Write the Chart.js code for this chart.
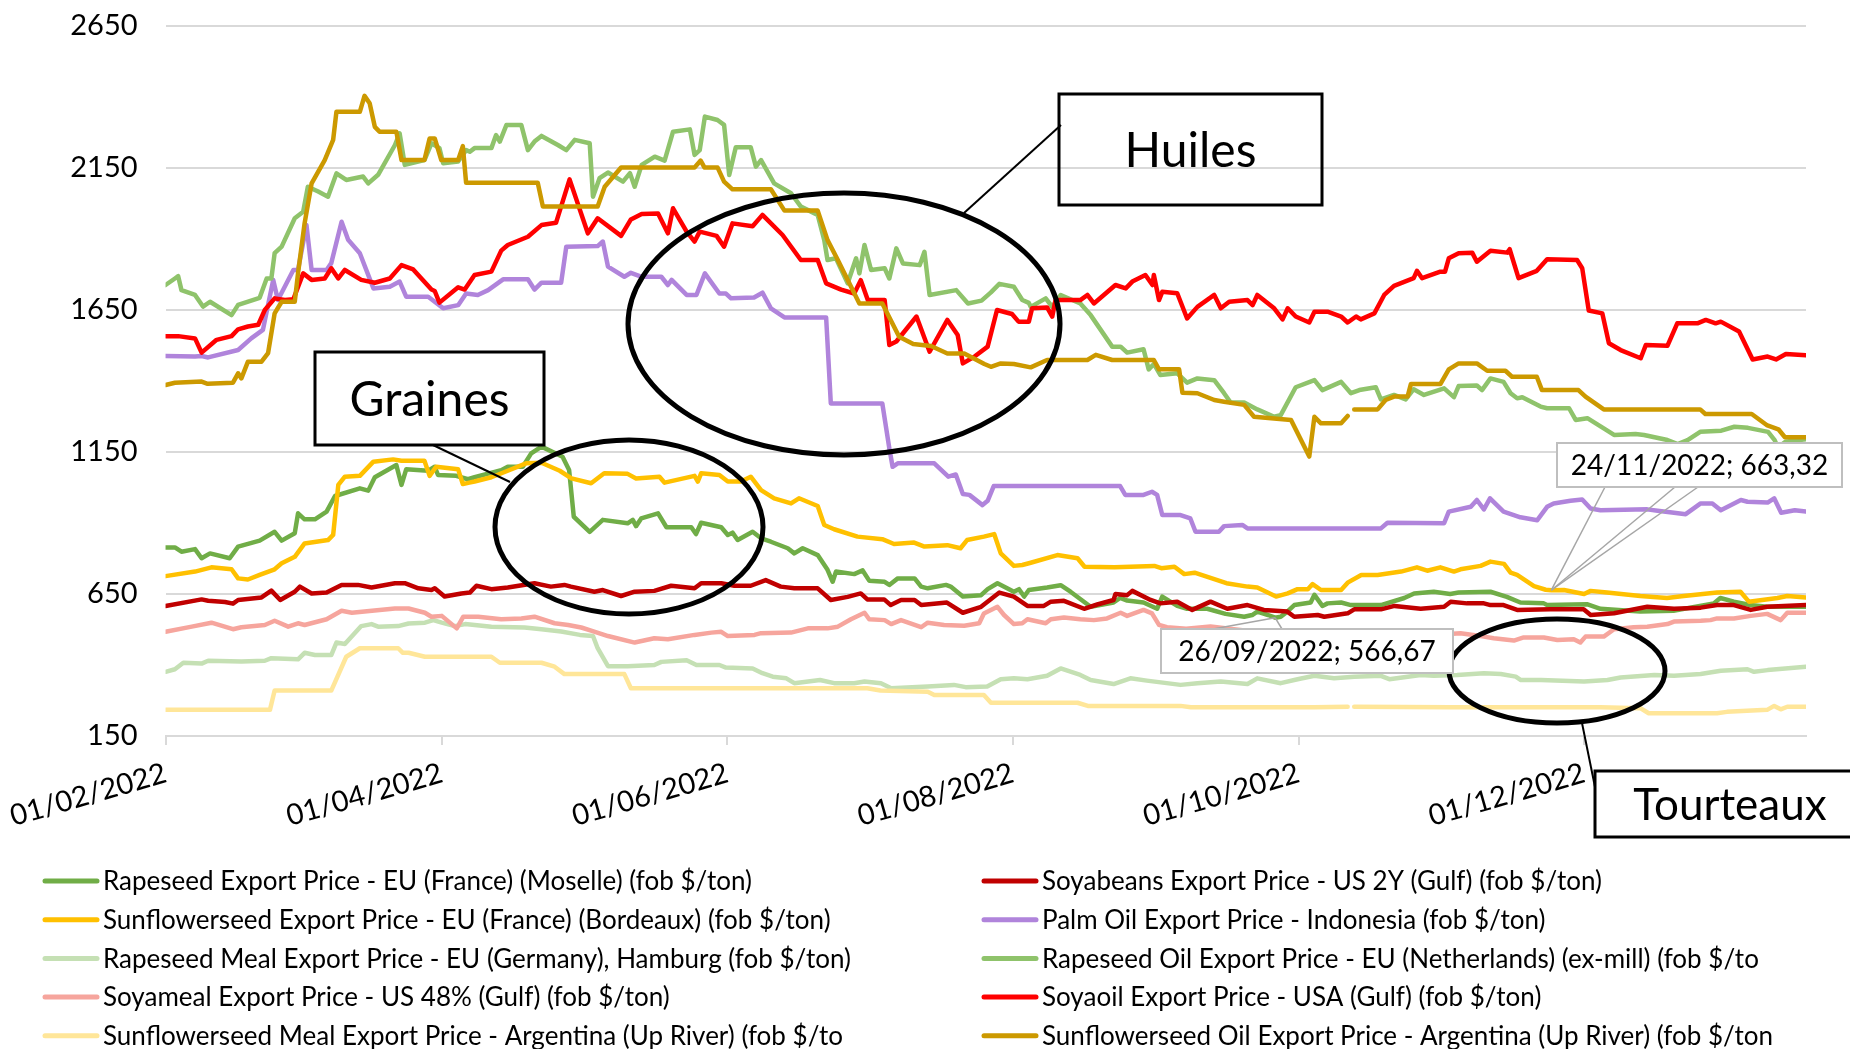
<!DOCTYPE html>
<html>
<head>
<meta charset="utf-8">
<title>Prix export oléagineux 2022</title>
<script src="https://cdn.jsdelivr.net/npm/chart.js@4.4.1/dist/chart.umd.min.js"></script>
<style>
    html, body { margin: 0; padding: 0; background: #fff; }
    #wrap { position: relative; width: 1850px; height: 1049px; }
</style>
</head>
<body>
<div id="wrap"><canvas id="chart"></canvas></div>
<script>
// x values are days counted from 01/02/2022
const tickDays = [0, 59, 120, 181, 242, 303];
const tickLabels = ['01/02/2022', '01/04/2022', '01/06/2022', '01/08/2022', '01/10/2022', '01/12/2022'];
const yTicks = [150, 650, 1150, 1650, 2150, 2650];

const seriesNames = [
    'Rapeseed Export Price - EU (France) (Moselle) (fob $/ton)',
    'Soyabeans Export Price - US 2Y (Gulf) (fob $/ton)',
    'Sunflowerseed Export Price - EU (France) (Bordeaux) (fob $/ton)',
    'Palm Oil Export Price - Indonesia (fob $/ton)',
    'Rapeseed Meal Export Price - EU (Germany), Hamburg (fob $/ton)',
    'Rapeseed Oil Export Price - EU (Netherlands) (ex-mill) (fob $/to',
    'Soyameal Export Price - US 48% (Gulf) (fob $/ton)',
    'Soyaoil Export Price - USA (Gulf) (fob $/ton)',
    'Sunflowerseed Meal Export Price - Argentina (Up River) (fob $/to',
    'Sunflowerseed Oil Export Price - Argentina (Up River) (fob $/ton'
];
const seriesColors = ['#70AD47', '#C00000', '#FFC000', '#B084DB', '#C5E0B4',
                      '#8FC36B', '#F6A59D', '#FF0000', '#FFE699', '#CC9900'];

// [day, price]
const rapeseed = [[0,814],[2,814],[3.4,799],[6.3,808],[7.7,776],[9.5,793],[13.7,776],[15.5,817],[20.1,838],[23.3,869],[24.8,838],[27.6,864],[28.3,934],[29.7,913],[31.9,913],[34.4,940],[36.2,995],[41.5,1022],[43.3,1014],[44.7,1061],[49.3,1104],[50.4,1034],[51.4,1089],[56.1,1084],[57.5,1098],[58.2,1069],[62.1,1066],[64.6,1054],[66,1061],[70.3,1080],[71.7,1086],[73.1,1098],[76.3,1098],[78.1,1145],[80.3,1169],[84.8,1133],[86.2,1087],[87.2,922],[90.6,869],[93.4,911],[98.7,899],[99.8,911],[100.5,889],[101.6,916],[105.2,934],[107,885],[112.3,885],[113.3,861],[114.4,901],[118.7,885],[120.1,858],[121.1,866],[122.2,840],[125.4,869],[127.2,846],[129.3,834],[132.9,811],[134.3,793],[136.1,811],[139.3,787],[141.4,735],[142.5,693],[143.2,729],[147.1,720],[148.9,733],[150.3,697],[153.6,693],[154.6,682],[156.4,705],[160,705],[161.4,676],[162.8,670],[166.7,682],[167.7,676],[170.3,641],[174.2,646],[175.6,667],[177.7,688],[181.2,658],[182.3,667],[183.4,641],[184.4,664],[188.3,673],[191.2,681],[193.3,658],[197.6,605],[202.5,620],[203.9,636],[205.4,627],[208.9,620],[211.8,598],[212.9,641],[216.1,608],[218.2,598],[222.5,598],[226.4,580],[230.4,570],[232.1,576],[233.2,588],[235.5,576],[237,566.67],[238.2,570],[239.6,588],[241.1,611],[244.6,620],[245.4,647],[247.1,608],[248.2,617],[251.1,620],[253.2,611],[259.6,611],[264.6,636],[266.7,652],[270.9,658],[274.4,650],[276.2,655],[283,658],[286.5,640],[289.4,620],[294.4,617],[295.1,611],[303.6,614],[306.5,598],[315,588],[322.1,591],[330.7,617],[332.1,636],[335,623],[338.5,611],[342.1,605],[350.4,605]];
const soyabeans = [[0,608],[7.7,631],[9.1,626],[12.7,622],[14.4,616],[15.5,629],[20.5,638],[22.6,662],[24.5,629],[27.6,658],[28.7,676],[31.2,652],[34.4,655],[37.6,682],[41.1,682],[44,673],[49,688],[51.1,688],[54,670],[56.8,664],[57.5,670],[59.6,641],[63.2,652],[65,655],[66.4,679],[69.6,667],[73.1,673],[78.8,688],[82.3,676],[85.2,682],[86.6,676],[91.6,658],[93.4,664],[97.3,643],[100.2,658],[104.4,661],[108,679],[113,670],[114.4,688],[118.7,688],[121.5,679],[125,679],[128.2,699],[131.4,676],[134.3,670],[139.3,670],[142.1,629],[145.7,640],[148.5,652],[149.9,631],[153.5,631],[154.9,611],[157.1,629],[160,629],[161.4,611],[166.9,620],[170.3,584],[174.2,605],[178.1,655],[181.2,641],[184.1,608],[187.6,608],[189.1,623],[191.9,626],[196.2,598],[199,613],[202.5,629],[202.9,650],[205.4,646],[206.5,661],[210.4,629],[212.5,617],[216.1,623],[219.3,594],[223.2,623],[226.8,598],[231.1,611],[234.6,594],[239.6,588],[241.1,570],[246.1,576],[247.5,570],[252.5,582],[253.9,596],[259.6,596],[262.5,608],[268.1,598],[273.1,605],[274.5,623],[278,617],[281.6,617],[283,611],[285.8,611],[288.7,594],[295.8,596],[302.9,596],[304.4,576],[309.4,582],[316.5,605],[322.2,598],[327.9,602],[331.4,611],[335,611],[338.6,594],[342.1,605],[350.4,611]];
const sunflowerseed = [[0,713],[6.3,729],[9.8,744],[14.1,737],[15.5,705],[17.6,701],[20.1,717],[23.3,737],[24.8,758],[27.6,781],[29.7,828],[34.7,840],[35.8,858],[36.9,1034],[38.3,1063],[41.5,1066],[44.4,1116],[48.6,1124],[50.4,1119],[55.3,1119],[56.4,1066],[57.8,1098],[62.5,1089],[63.5,1037],[64.9,1042],[66,1046],[69.6,1061],[73.1,1084],[77,1110],[80.3,1112],[84.2,1084],[86.7,1057],[90.9,1040],[93.7,1075],[98.7,1073],[100.5,1057],[105.5,1063],[106.6,1042],[113,1066],[113.7,1046],[114.4,1075],[118.3,1069],[120.1,1046],[122.9,1046],[125,1063],[127.2,1016],[130,987],[133.6,969],[135.3,987],[139.3,960],[140.7,893],[142.8,878],[147.8,852],[153.1,843],[155.6,826],[159.9,831],[162.1,817],[167,822],[169.8,811],[171.2,840],[174.8,852],[177,861],[178.4,793],[181.2,749],[183,752],[184.8,760],[190.5,787],[194.8,776],[196.3,746],[202.7,744],[211.2,749],[212.7,741],[215.5,746],[217.6,720],[219.8,725],[226.6,688],[231.1,676],[233.2,673],[237.2,641],[239.7,652],[241.8,667],[244,667],[245,685],[246.8,664],[251.1,664],[252.5,690],[255.4,717],[258.9,717],[263.9,729],[267.3,744],[269.5,732],[272.3,744],[275.2,729],[276.6,737],[280.9,749],[283,764],[285.9,756],[287.3,725],[288.7,717],[292.3,678],[294.8,665],[296,663.32],[298.7,664],[303,650],[304.4,661],[307.9,655],[315,643],[320.7,636],[324.3,643],[331.4,655],[336.4,658],[338.2,623],[344.3,636],[346.4,643],[350.4,638]];
const palmOil = [[0,1488],[6.3,1486],[7.7,1488],[9.1,1483],[15.5,1509],[18.3,1550],[20.8,1580],[23,1756],[24,1685],[27.3,1791],[28.3,1791],[30.1,1949],[31.2,1791],[34.4,1791],[35.4,1815],[37.6,1961],[39,1897],[41.5,1850],[44.4,1726],[47.9,1732],[50,1750],[51.4,1697],[56.1,1697],[59.3,1656],[62.5,1667],[64.2,1708],[66.7,1703],[68.9,1720],[72.1,1758],[77.4,1758],[78.8,1722],[80.3,1746],[84.5,1746],[85.6,1873],[92.3,1875],[93.4,1891],[94.5,1803],[98,1767],[99.4,1781],[101.7,1767],[105.9,1767],[107.3,1738],[108.1,1756],[111.3,1703],[113.4,1703],[115.2,1779],[118.3,1708],[119.7,1708],[120.8,1691],[125.7,1694],[127.5,1711],[129.3,1656],[132.2,1624],[141.1,1624],[142.1,1321],[153.1,1321],[154.6,1163],[155.3,1098],[156.4,1110],[164.2,1110],[167.2,1063],[168.8,1071],[170.3,1002],[171.7,999],[174.5,963],[175.6,978],[176.9,1030],[203.9,1030],[205,999],[208.9,999],[210.7,1010],[211.8,999],[212.9,928],[216.8,928],[218.9,916],[220,869],[225,869],[226.1,889],[230,893],[231.1,881],[259.6,881],[261,901],[273.1,899],[274.1,940],[278.8,957],[280.1,981],[281.6,948],[282.9,987],[285.8,940],[289.4,920],[293,910],[295.1,957],[296.5,969],[300.1,978],[302.6,983],[304.4,951],[306.5,945],[316.5,948],[318.7,943],[322.2,936],[324.7,931],[327.9,969],[330.4,969],[332.2,945],[336.5,981],[337.9,975],[342.2,972],[343.6,987],[345.1,936],[348,945],[350.4,940]];
const rapeseedMeal = [[0,376],[2,385],[3.8,408],[7.7,405],[9.1,415],[16.2,412],[21.2,415],[22.6,424],[28.3,420],[29.7,443],[31.9,435],[35.4,435],[36.5,479],[38.3,474],[41.8,537],[44,544],[45.4,535],[49.7,537],[51.9,546],[55.4,549],[57.2,558],[59,549],[61.8,537],[64,544],[69.6,535],[76.7,532],[80.3,526],[84.5,518],[88.5,506],[91.3,502],[92.3,459],[94.5,396],[98.7,396],[104.4,400],[105.9,411],[111.3,417],[113.4,400],[118.3,400],[119.7,391],[125.4,388],[127.5,371],[129.7,359],[132.6,353],[134.3,336],[139.8,347],[142.8,336],[147.1,336],[149.3,342],[152.8,336],[155,318],[162.8,324],[168.4,330],[170.9,322],[175.5,324],[178.4,350],[181.2,353],[184.1,350],[188.3,362],[191.2,388],[195.4,365],[197.6,347],[202.5,333],[206.1,353],[209.6,345],[216.8,330],[220.4,336],[225.4,342],[231.1,333],[233.2,353],[238.2,336],[241.8,350],[245.4,362],[249.6,353],[253.9,359],[259.6,362],[261.4,350],[268.1,365],[270.9,362],[275.9,365],[281.6,371],[285.2,368],[288.4,359],[289.5,347],[293.8,347],[303,342],[308,347],[310.8,356],[318,365],[322.2,362],[327.9,368],[332.2,380],[337.9,385],[339.3,376],[342.2,382],[350.4,394]];
const rapeseedOil = [[0,1738],[2,1761],[2.7,1769],[3.4,1720],[6.3,1703],[8,1662],[9.5,1679],[14.1,1632],[15.5,1668],[20.1,1693],[21.6,1761],[22.6,1761],[23.3,1850],[24.8,1873],[27.6,1973],[29.4,1996],[30.4,2084],[32.6,2067],[34.7,2049],[36.5,2131],[38.6,2108],[42.2,2120],[43.3,2096],[45.4,2126],[49,2231],[50,2272],[51.1,2161],[55.3,2178],[56.8,2237],[58.5,2220],[59.3,2167],[62.5,2173],[64.2,2213],[65,2207],[66,2220],[69.6,2220],[70.6,2266],[71.4,2243],[72.8,2301],[76,2301],[77.4,2213],[78.8,2243],[80.3,2263],[83.8,2231],[85.6,2213],[87.4,2249],[90.6,2237],[91.3,2049],[92.7,2114],[94.5,2134],[97.7,2102],[99.2,2132],[100.2,2084],[101.7,2161],[104.5,2190],[106.6,2176],[108.4,2278],[112,2286],[113,2196],[114.1,2213],[115.2,2331],[117.9,2319],[119.3,2302],[120.4,2125],[121.8,2223],[125,2223],[126.1,2155],[127.2,2178],[130,2096],[133.6,2061],[135.7,2014],[139.3,1985],[140.7,1896],[141.4,1826],[143.2,1832],[145.7,1744],[147.5,1832],[148.2,1779],[149.3,1879],[150.7,1791],[153.6,1797],[154.6,1761],[156.1,1867],[157.5,1814],[161.1,1808],[162.1,1855],[163.2,1703],[168.9,1720],[171.4,1673],[174.3,1683],[176.3,1712],[178.1,1742],[181.2,1732],[183,1685],[184.4,1675],[184.8,1661],[188,1691],[189.4,1661],[191.2,1703],[195.4,1673],[197.6,1632],[202.2,1521],[204,1521],[205.4,1500],[208.9,1512],[210,1441],[211.1,1460],[212.5,1421],[216.1,1427],[218.2,1394],[220.4,1409],[224,1403],[226.1,1357],[227.5,1324],[230.4,1324],[233.2,1300],[236.8,1274],[238.2,1280],[241.4,1378],[245.4,1403],[247.1,1368],[251.1,1397],[253.2,1357],[255,1368],[258.5,1378],[259.6,1335],[262.4,1351],[264.9,1335],[266.6,1371],[268.8,1351],[273.1,1374],[275.2,1343],[276.2,1382],[280.1,1384],[281.2,1368],[283,1409],[285.8,1397],[287.3,1357],[288.7,1339],[289.8,1343],[293.7,1310],[295.1,1304],[299.8,1304],[301.2,1263],[303.7,1269],[307.2,1233],[309.4,1210],[314,1213],[315.8,1210],[320.8,1192],[323,1178],[325.1,1192],[327.8,1221],[332.3,1225],[335.1,1239],[338,1235],[342.3,1221],[343.7,1192],[344.4,1166],[346,1186],[350.4,1195]];
const soyameal = [[0,517],[5.6,535],[9.8,549],[14.4,526],[16.2,533],[21.2,541],[23.3,556],[26.2,535],[28.3,547],[29.7,541],[34.4,561],[37.6,591],[39.8,584],[44.1,591],[49,599],[51.9,599],[55.4,584],[56.8,570],[59,573],[62.2,529],[63.6,570],[66.8,570],[71.7,561],[76,564],[78.8,570],[83.1,547],[86,541],[88.8,532],[90.9,521],[94.5,502],[100.2,479],[104.4,494],[107.3,491],[113,506],[116.6,514],[118.7,517],[120.1,502],[125.8,506],[127.2,512],[133.6,514],[137.2,529],[141.4,529],[143.6,535],[146.4,561],[149.3,584],[150.3,561],[153.6,558],[155,544],[157.1,558],[161.4,533],[162.8,549],[166.3,541],[170.6,538],[173.8,547],[174.8,581],[177.7,605],[179.1,576],[181.2,544],[183,547],[184.1,561],[188,547],[189.1,561],[191.9,567],[195.4,561],[198.3,558],[201.1,564],[204,584],[205.4,573],[208.9,594],[210.7,582],[212.2,541],[213.9,533],[218,528],[223.2,536],[230,522],[240,515],[250,508],[260,505],[270,505],[276.6,512],[281.6,500],[283.7,494],[288,486],[290.1,497],[294.4,497],[297.3,488],[300.8,491],[302.2,479],[303.3,500],[307.2,500],[309.4,526],[313.6,533],[316.5,535],[320.8,544],[322.2,553],[327.9,556],[330,558],[331.4,564],[335,564],[338.6,573],[342.1,580],[345,558],[346.4,584],[350.4,584]];
const soyaoil = [[0,1558],[2.7,1558],[6.3,1550],[7.7,1500],[10.9,1545],[14.1,1558],[15.5,1582],[17.6,1592],[19.8,1598],[21.2,1650],[23.3,1691],[25.5,1685],[27.3,1688],[29.4,1779],[31.2,1756],[34,1761],[35.4,1797],[36.9,1761],[38.3,1791],[41.8,1756],[44.7,1746],[47.9,1761],[50.4,1808],[52.9,1793],[56.8,1722],[57.5,1717],[58.5,1676],[62.5,1730],[63.9,1722],[66,1773],[69.6,1785],[71.7,1859],[73.1,1879],[77.4,1908],[80.3,1949],[83.4,1957],[86.3,2110],[90.2,1920],[92.3,1973],[97.3,1911],[99.4,1969],[101.7,1988],[105.2,1990],[107.3,1920],[108.4,2008],[111.3,1926],[113,1891],[114.1,1926],[117.7,1911],[119.3,1873],[121.1,1955],[125.4,1945],[127.5,1985],[131.8,1914],[135.7,1826],[139.3,1826],[141.1,1744],[144.3,1722],[147.1,1708],[148.5,1755],[150,1685],[153.6,1685],[154.6,1527],[156.1,1539],[160.4,1627],[163.2,1503],[167,1615],[169.2,1562],[170.3,1462],[172.8,1486],[175.6,1521],[177.6,1650],[180.8,1636],[182.2,1609],[184.4,1609],[185.1,1656],[188.3,1659],[189.4,1627],[190.1,1685],[195.4,1685],[196.9,1703],[198.3,1673],[202.9,1738],[205.1,1726],[206.5,1750],[209.3,1773],[210.8,1738],[211.1,1773],[212.2,1685],[212.9,1714],[216.1,1709],[218.2,1620],[220.4,1661],[224,1703],[225.4,1656],[227.2,1679],[231.1,1685],[232.2,1667],[233.2,1703],[236.8,1656],[238.6,1617],[239.7,1656],[241.4,1627],[244.3,1606],[245.4,1644],[248.2,1644],[251.1,1627],[252.5,1606],[254.3,1627],[255.3,1617],[258.2,1638],[260.3,1703],[262.4,1735],[266.6,1762],[267.3,1788],[268.4,1762],[272.3,1785],[273.3,1785],[274.1,1832],[276.2,1850],[279.1,1852],[280.1,1820],[283,1859],[286.6,1852],[287.1,1864],[289,1762],[292.9,1788],[295.1,1829],[301.5,1826],[302.6,1797],[304,1648],[306.9,1638],[308.3,1533],[310.8,1509],[315.1,1480],[316.2,1527],[320.8,1524],[322.9,1603],[327.2,1603],[329,1615],[331.1,1603],[332.2,1609],[336.1,1574],[339,1476],[342.2,1486],[344,1476],[346.1,1495],[350.4,1491]];
const sunflowerMeal = [[0,242],[22.3,242],[23.3,310],[35.4,310],[38.6,429],[41.5,459],[49.7,459],[50.7,443],[51.9,443],[55.4,429],[69.6,429],[71.4,408],[80.3,408],[83.1,394],[85.2,368],[98,368],[99.4,318],[149.9,318],[152.7,310],[162.8,306],[164.2,294],[174.8,294],[176.3,267],[194.8,267],[197,256],[216.8,256],[219,251],[245.4,251],[252.5,253],[253.2,null],[253.9,253],[274.5,251],[306.5,251],[315,248],[316.8,230],[331.4,230],[333.5,235],[342.1,242],[343.6,256],[345,244],[346.4,253],[350.4,253]];
const sunflowerOil = [[0,1386],[2,1394],[7.7,1398],[9,1390],[14.4,1394],[15.5,1427],[16.2,1409],[17.6,1468],[20.5,1468],[21.9,1498],[23.3,1638],[24.8,1679],[27.6,1679],[28.3,1779],[29.7,1955],[31.2,2096],[34,2178],[35.8,2249],[36.5,2348],[41.5,2348],[42.5,2404],[43.6,2378],[44.7,2295],[45.7,2278],[49.3,2278],[50.4,2178],[55.3,2178],[56.4,2254],[57.5,2254],[58.9,2178],[62.5,2178],[63.5,2227],[64.2,2098],[79.5,2098],[80.6,2014],[92.3,2014],[93.8,2084],[97.3,2152],[113,2152],[114.3,2176],[115.1,2152],[117.9,2152],[119.3,2102],[121.1,2075],[129.3,2075],[132.2,2000],[139.3,2000],[141.4,1896],[143.6,1826],[148.2,1673],[153.1,1673],[156.7,1556],[159.7,1530],[163.5,1523],[167,1497],[170.6,1497],[174.9,1460],[176.3,1450],[178.4,1462],[181.2,1460],[184.8,1448],[188.3,1474],[196.9,1474],[198.7,1492],[202.2,1474],[211.1,1474],[212.2,1441],[216.5,1441],[217.2,1359],[220.4,1357],[224,1333],[226.1,1327],[230.4,1316],[232.5,1274],[240.4,1263],[244.3,1134],[245.4,1274],[246.8,1251],[251.1,1251],[252.5,1277],[253.2,null],[253.9,1300],[258.9,1300],[260.6,1333],[262.4,1345],[265.3,1345],[266,1389],[272.3,1389],[274.1,1441],[276.2,1462],[280.1,1462],[282.3,1436],[286.2,1436],[287.6,1415],[292.9,1415],[294,1368],[301.8,1368],[303.3,1345],[307.2,1300],[327.8,1300],[328.9,1284],[338.8,1284],[342,1245],[344.5,1230],[345.9,1202],[350.4,1202]];

const allSeries = [rapeseed, soyabeans, sunflowerseed, palmOil, rapeseedMeal,
                   rapeseedOil, soyameal, soyaoil, sunflowerMeal, sunflowerOil];

// point labels shown on the chart: [day, value, text]
const pointLabels = [
    [296, 663.32, '24/11/2022; 663,32'],
    [237, 566.67, '26/09/2022; 566,67']
];

const FONT = 'Lato, "Noto Sans", sans-serif';

// hand-drawn annotations (ellipses, boxes, arrows)
const annotationPlugin = {
    id: 'annotations',
    afterDatasetsDraw(chart) {
        const ctx = chart.ctx;
        const xs = chart.scales.x;
        const ys = chart.scales.y;
        ctx.save();
        ctx.strokeStyle = '#000';
        ctx.fillStyle = '#000';
        ctx.lineCap = 'butt';

        // ellipses
        ctx.lineWidth = 5;
        [[844, 324, 216, 131], [629, 527, 134, 87], [1557, 671, 108, 52]].forEach(e => {
            ctx.beginPath();
            ctx.ellipse(e[0], e[1], e[2], e[3], 0, 0, Math.PI * 2);
            ctx.stroke();
        });

        // leader lines to the boxes
        ctx.lineWidth = 2;
        [[1061, 125, 964, 213], [433, 445, 510, 482], [1582, 723, 1595, 787]].forEach(l => {
            ctx.beginPath();
            ctx.moveTo(l[0], l[1]);
            ctx.lineTo(l[2], l[3]);
            ctx.stroke();
        });

        // boxes with big titles
        ctx.lineWidth = 3;
        ctx.textAlign = 'center';
        ctx.textBaseline = 'middle';
        [
            ['Huiles', 1059, 94, 263, 111, 48],
            ['Graines', 315, 352, 229, 93, 48],
            ['Tourteaux', 1595, 771, 270, 66, 44]
        ].forEach(b => {
            ctx.strokeRect(b[1], b[2], b[3], b[4]);
            ctx.font = b[5] + 'px ' + FONT;
            ctx.fillText(b[0], b[1] + b[3] / 2, b[2] + b[4] / 2 + 2);
        });

        // data point labels
        const boxes = [
            { x: 1557, y: 443, w: 285, h: 44, leaders: [[1605, 487], [1675, 487], [1698, 487]] },
            { x: 1161, y: 629, w: 292, h: 44, leaders: [[1213, 629], [1282, 629]] }
        ];
        pointLabels.forEach((p, i) => {
            const px = xs.getPixelForValue(p[0]);
            const py = ys.getPixelForValue(p[1]);
            const b = boxes[i];
            ctx.strokeStyle = '#A6A6A6';
            ctx.lineWidth = 1.5;
            b.leaders.forEach(pt => {
                ctx.beginPath();
                ctx.moveTo(pt[0], pt[1]);
                ctx.lineTo(px, py);
                ctx.stroke();
            });
            ctx.fillStyle = '#fff';
            ctx.fillRect(b.x, b.y, b.w, b.h);
            ctx.strokeStyle = '#BFBFBF';
            ctx.lineWidth = 2;
            ctx.strokeRect(b.x, b.y, b.w, b.h);
            ctx.fillStyle = '#000';
            ctx.font = '28px ' + FONT;
            ctx.fillText(p[2], b.x + b.w / 2, b.y + b.h / 2 + 1);
        });
        ctx.restore();
    }
};

// legend in two columns, filled row by row
const legendPlugin = {
    id: 'twoColLegend',
    afterDraw(chart) {
        const ctx = chart.ctx;
        ctx.save();
        ctx.font = '26px ' + FONT;
        ctx.textAlign = 'left';
        ctx.textBaseline = 'middle';
        chart.data.datasets.forEach((ds, i) => {
            const x = i % 2 === 0 ? 43 : 982;
            const y = 881 + Math.floor(i / 2) * 38.7;
            ctx.strokeStyle = ds.borderColor;
            ctx.lineWidth = 5;
            ctx.lineCap = 'round';
            ctx.beginPath();
            ctx.moveTo(x + 2, y);
            ctx.lineTo(x + 54, y);
            ctx.stroke();
            ctx.fillStyle = '#000';
            ctx.fillText(ds.label, x + 60, y + 1);
        });
        ctx.restore();
    }
};

Chart.defaults.font.family = FONT;
Chart.defaults.color = '#000';

const ctx = document.getElementById('chart').getContext('2d');
const chart = new Chart(ctx, {
    type: 'line',
    data: {
        datasets: allSeries.map((s, i) => ({
            label: seriesNames[i],
            data: s.map(p => ({ x: p[0], y: p[1] })),
            borderColor: seriesColors[i],
            backgroundColor: seriesColors[i],
            borderWidth: 4.5,
            borderJoinStyle: 'round',
            borderCapStyle: 'round',
            pointRadius: 0,
            tension: 0,
            fill: false,
            spanGaps: false,
            order: -i
        }))
    },
    options: {
        responsive: true,
        maintainAspectRatio: false,
        animation: false,
        layout: { padding: { top: 26, right: 44, bottom: 0, left: 0 } },
        plugins: {
            legend: { display: false },
            tooltip: { enabled: false }
        },
        scales: {
            x: {
                type: 'linear',
                min: 0,
                max: 350.4,
                afterBuildTicks: scale => {
                    scale.ticks = tickDays.map(v => ({ value: v }));
                },
                afterFit: scale => { scale.height = 313; },
                ticks: {
                    autoSkip: false,
                    minRotation: 16,
                    maxRotation: 16,
                    padding: 11,
                    font: { size: 29 },
                    callback: value => tickLabels[tickDays.indexOf(value)]
                },
                grid: {
                    drawOnChartArea: false,
                    drawTicks: true,
                    tickLength: 9,
                    color: '#D9D9D9',
                    lineWidth: 2
                },
                border: { display: true, color: '#D9D9D9', width: 2 }
            },
            y: {
                min: 150,
                max: 2650,
                afterBuildTicks: scale => {
                    scale.ticks = yTicks.map(v => ({ value: v }));
                },
                afterFit: scale => {
                    scale.width = 164;
                    // labels only need room inside the layout padding
                    scale.paddingTop = 0;
                    scale.paddingBottom = 0;
                },
                ticks: {
                    padding: 28,
                    font: { size: 29 },
                    callback: value => String(value)
                },
                grid: {
                    drawTicks: false,
                    color: '#D9D9D9',
                    lineWidth: 2
                },
                border: { display: false }
            }
        }
    },
    plugins: [annotationPlugin, legendPlugin]
});
</script>
</body>
</html>
